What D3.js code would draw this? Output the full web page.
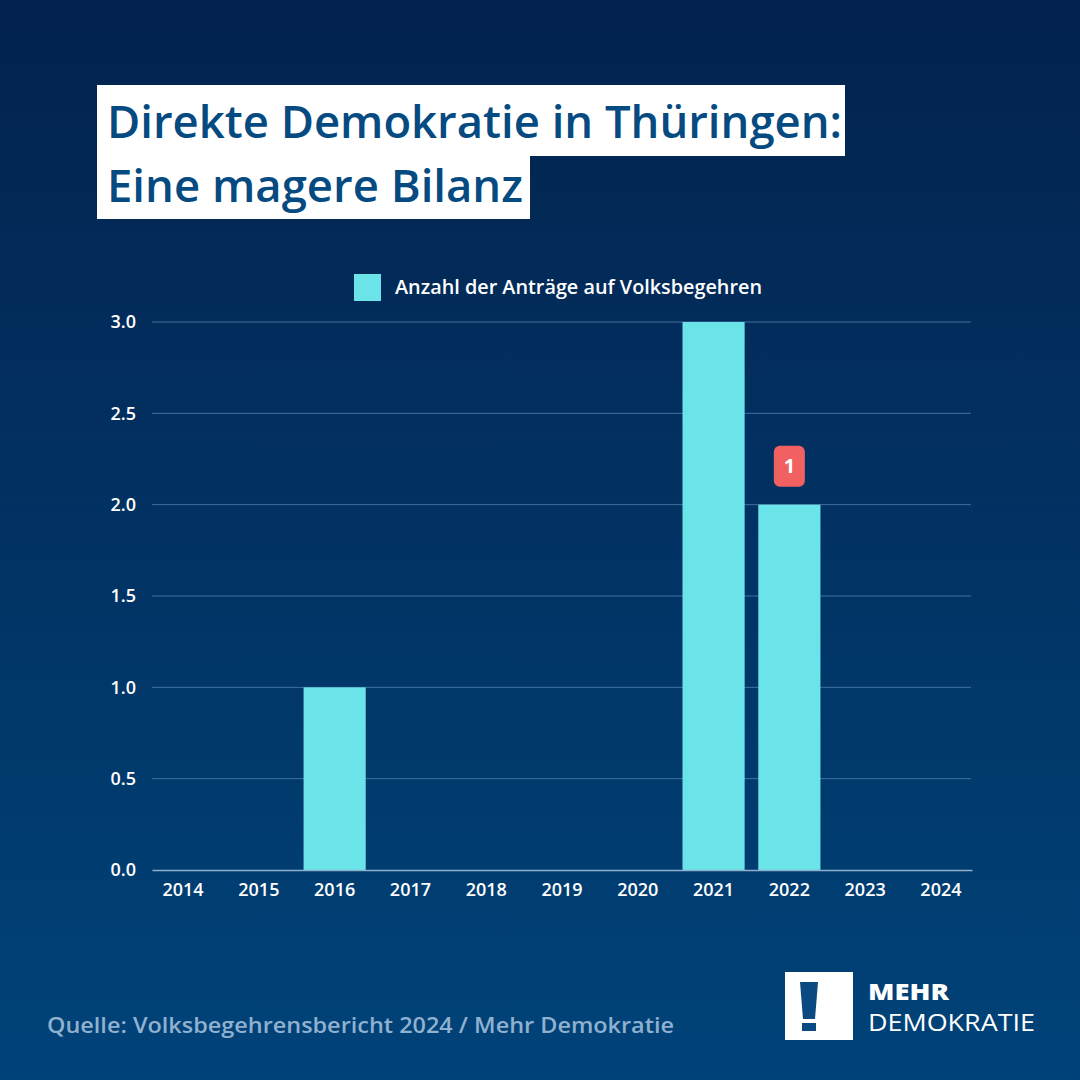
<!DOCTYPE html>
<html><head><meta charset="utf-8">
<script src="https://cdn.jsdelivr.net/npm/d3@7"></script>
<style>html,body{margin:0;padding:0;background:#01295a;}svg{display:block;}</style>
</head><body>
<svg id="c" width="1080" height="1080"></svg>
<script>
const years = ["2014","2015","2016","2017","2018","2019","2020","2021","2022","2023","2024"];
const values = [0,0,1,0,0,0,0,3,2,0,0];
const yTicks = [0,0.5,1,1.5,2,2.5,3];
const seriesName = "Anzahl der Anträge auf Volksbegehren";
const annotations = [{year:"2022", value:2, label:"1"}];
const titleLines = ["Direkte Demokratie in Thüringen:", "Eine magere Bilanz"];
const sourceText = "Quelle: Volksbegehrensbericht 2024 / Mehr Demokratie";

const svg = d3.select("#c");
const F = "'Open Sans', 'Noto Sans', sans-serif";
const defs = svg.append("defs");
const g = defs.append("linearGradient").attr("id","bg").attr("x1",0).attr("y1",0).attr("x2",0).attr("y2",1);
g.append("stop").attr("offset","0%").attr("stop-color","#03224e");
g.append("stop").attr("offset","100%").attr("stop-color","#004379");
svg.append("rect").attr("width",1080).attr("height",1080).attr("fill","url(#bg)");

function fit(sel, w){ sel.attr("textLength", w).attr("lengthAdjust","spacingAndGlyphs"); return sel; }

// Title
svg.append("rect").attr("x",97).attr("y",85).attr("width",748).attr("height",71).attr("fill","#fff");
svg.append("rect").attr("x",97).attr("y",154).attr("width",433).attr("height",65).attr("fill","#fff");
fit(svg.append("text").attr("x",107).attr("y",138).attr("font-family",F).attr("font-weight",600)
  .attr("font-size",46).attr("fill","#054a80").text(titleLines[0]), 735);
fit(svg.append("text").attr("x",107).attr("y",202).attr("font-family",F).attr("font-weight",600)
  .attr("font-size",46).attr("fill","#054a80").text(titleLines[1]), 416);

// Legend
svg.append("rect").attr("x",354).attr("y",274).attr("width",27).attr("height",27).attr("fill","#6ae4e8");
fit(svg.append("text").attr("x",395).attr("y",294).attr("font-family",F).attr("font-weight",600)
  .attr("font-size",20).attr("fill","#fff").text(seriesName), 367);

// Scales
const x = d3.scaleBand().domain(years).range([152,972]).paddingInner(0.18).paddingOuter(0);
const y = d3.scaleLinear().domain([0,3]).range([870,322]);

// Grid
svg.append("g").selectAll("line").data(yTicks.filter(d=>d>0)).join("line")
  .attr("x1",152).attr("x2",971).attr("y1",d=>y(d)).attr("y2",d=>y(d))
  .attr("stroke","#5d8bb8").attr("stroke-opacity",0.7).attr("stroke-width",1);

// Y axis
const yAxis = svg.append("g").attr("transform","translate(136,0)")
  .call(d3.axisLeft(y).tickValues(yTicks).tickFormat(d3.format(".1f")).tickSize(0).tickPadding(0));
yAxis.select(".domain").remove();
yAxis.selectAll("text").attr("font-family",F).attr("font-weight",600).attr("font-size",18).attr("fill","#fff");

// Bars
svg.append("g").selectAll("rect").data(years.map((yr,i)=>({yr,v:values[i]})).filter(d=>d.v>0)).join("rect")
  .attr("x",d=>x(d.yr)).attr("width",x.bandwidth()).attr("y",d=>y(d.v)).attr("height",d=>y(0)-y(d.v))
  .attr("fill","#6ae4e8");

// X axis
const xAxis = svg.append("g").attr("transform","translate(0,870)")
  .call(d3.axisBottom(x).tickSize(0).tickPadding(13).tickSizeOuter(0));
xAxis.select(".domain").attr("stroke","#8fb0cc").attr("stroke-width",1.5);
xAxis.selectAll("text").attr("font-family",F).attr("font-weight",600).attr("font-size",18).attr("fill","#fff");

// Annotation
annotations.forEach(a=>{
  const cx = x(a.year)+x.bandwidth()/2;
  const top = y(a.value)-18-41;
  svg.append("rect").attr("x",cx-15.5).attr("y",top).attr("width",31).attr("height",41).attr("rx",6)
    .attr("fill","#f26161");
  svg.append("text").attr("x",cx).attr("y",top+27).attr("text-anchor","middle").attr("font-family",F)
    .attr("font-weight",700).attr("font-size",20).attr("fill","#fff").text(a.label);
});

// Source
fit(svg.append("text").attr("x",47).attr("y",1033).attr("font-family",F).attr("font-weight",600)
  .attr("font-size",22).attr("fill","#8fb1cf").text(sourceText), 627);

// Logo
svg.append("rect").attr("x",785).attr("y",972).attr("width",68).attr("height",68).attr("fill","#fff");
svg.append("path").attr("d","M800,982 L818,982 L815,1019 L803,1019 Z").attr("fill","#0b4a80");
svg.append("rect").attr("x",802).attr("y",1023).attr("width",14).attr("height",8).attr("fill","#0b4a80");
fit(svg.append("text").attr("x",868).attr("y",1000).attr("font-family",F).attr("font-weight",800)
  .attr("font-size",23).attr("fill","#fff").text("MEHR"), 81);
fit(svg.append("text").attr("x",868).attr("y",1031).attr("font-family",F).attr("font-weight",400)
  .attr("font-size",24).attr("fill","#fff").text("DEMOKRATIE"), 167);
</script>
</body></html>
